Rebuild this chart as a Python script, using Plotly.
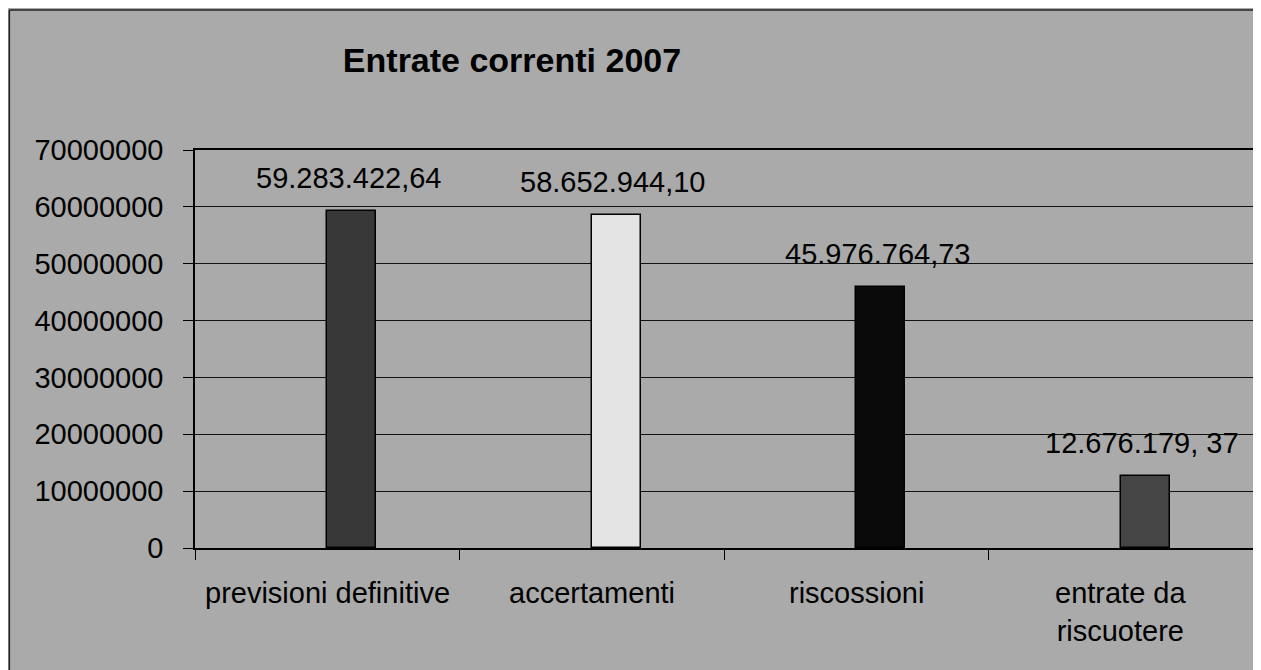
import plotly.graph_objects as go

categories = ["previsioni definitive", "accertamenti", "riscossioni", "entrate da<br>riscuotere"]
values = [59283422.64, 58652944.10, 45976764.73, 12676179.37]
value_labels = ["59.283.422,64", "58.652.944,10", "45.976.764,73", "12.676.179, 37"]
bar_colors = ["#383838", "#e4e4e4", "#0a0a0a", "#454545"]
tick_values = [0, 10000000, 20000000, 30000000, 40000000, 50000000, 60000000, 70000000]

BG = "#aaaaaa"
FONT = "Liberation Sans, Arial, sans-serif"
xs = list(range(len(categories)))

fig = go.Figure()
fig.add_trace(go.Bar(
    x=xs, y=values, width=0.185, offset=0.0,
    marker=dict(color=bar_colors, line=dict(color="#000000", width=1.5)),
    hoverinfo="skip", showlegend=False,
))

for i, (v, t) in enumerate(zip(values, value_labels)):
    fig.add_annotation(x=i, y=v, text=t, showarrow=False, xref="x", yref="y",
                       yanchor="bottom", xanchor="center", xshift=21, yshift=15,
                       font=dict(family=FONT, size=29, color="#000"))

for i, c in enumerate(categories):
    fig.add_annotation(x=i, y=0, text=c, showarrow=False, xref="x", yref="y",
                       yanchor="top", xanchor="center", yshift=-27,
                       font=dict(family=FONT, size=29, color="#000"))

fig.update_layout(
    width=1253, height=662,
    paper_bgcolor=BG, plot_bgcolor=BG,
    margin=dict(l=187, r=6, t=142, b=122),
    title=dict(text="<b>Entrate correnti 2007</b>", x=(512 - 8) / 1253, xanchor="center",
               y=1 - (60 - 8) / 662, yanchor="middle",
               font=dict(family=FONT, size=34, color="#000")),
    bargap=0,
    xaxis=dict(range=[-0.5, 3.5], tickvals=[-0.5, 0.5, 1.5, 2.5, 3.5], ticktext=["", "", "", "", ""],
               ticks="outside", ticklen=10, tickcolor="#000", showgrid=False,
               showline=True, linecolor="#000", linewidth=1.5, mirror=True, zeroline=False),
    yaxis=dict(range=[0, 70000000], tickvals=tick_values, tickformat="d",
               ticks="outside", ticklen=10, tickcolor="#000", ticklabelstandoff=14,
               showgrid=True, gridcolor="#111111", gridwidth=1.2,
               showline=True, linecolor="#000", linewidth=1.5, mirror=True, zeroline=False,
               tickfont=dict(family=FONT, size=29, color="#000")),
)

bx = (1 - 187) / 1060
by = (540 - 2) / 398
fig.add_shape(type="line", xref="paper", yref="paper", x0=bx, x1=bx, y0=-0.5, y1=by,
              line=dict(color="#222", width=1.5))
fig.add_shape(type="line", xref="paper", yref="paper", x0=bx, x1=1.1, y0=by, y1=by,
              line=dict(color="#222", width=1.5))

fig.write_html("out.html")
